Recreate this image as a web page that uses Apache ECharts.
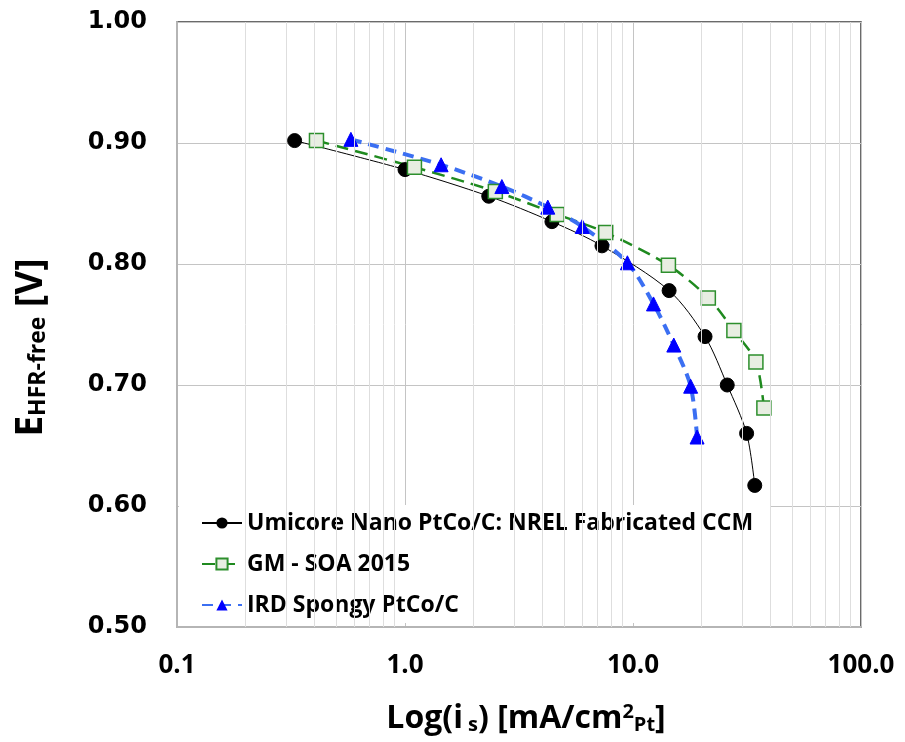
<!DOCTYPE html>
<html>
<head>
<meta charset="utf-8">
<script src="https://cdn.jsdelivr.net/npm/echarts@6/dist/echarts.min.js"></script>
<style>html,body{margin:0;padding:0;background:#fff;overflow:hidden}#chart{width:905px;height:742px}</style>
</head>
<body>
<div id="chart"></div>
<script>
// ---- data ----
const seriesNames = ['Umicore Nano PtCo/C: NREL Fabricated CCM', 'GM - SOA 2015', 'IRD Spongy PtCo/C'];
const umicoreX = [0.328, 1.00, 2.33, 4.41, 7.31, 14.4, 20.7, 25.9, 31.5, 34.2];
const umicoreY = [0.902, 0.878, 0.856, 0.835, 0.815, 0.778, 0.740, 0.700, 0.660, 0.617];
const gmX = [0.409, 1.10, 2.49, 4.65, 7.59, 14.3, 21.4, 27.7, 34.6, 37.5];
const gmY = [0.902, 0.880, 0.860, 0.841, 0.826, 0.799, 0.772, 0.745, 0.719, 0.681];
const irdX = [0.579, 1.44, 2.66, 4.23, 5.99, 9.45, 12.3, 15.1, 17.9, 19.1];
const irdY = [0.903, 0.882, 0.864, 0.847, 0.831, 0.801, 0.767, 0.733, 0.699, 0.657];
const xTickValues = [0.1, 1, 10, 100];
const xTickLabels = ['0.1', '1.0', '10.0', '100.0'];
const yTickLabels = ['0.50', '0.60', '0.70', '0.80', '0.90', '1.00'];
const minorGridX = [0.2,0.3,0.4,0.5,0.6,0.7,0.8,0.9, 2,3,4,5,6,7,8,9, 20,30,40,50,60,70,80,90];

const pair = (xs, ys) => xs.map((x, i) => [x, ys[i]]);

const chart = echarts.init(document.getElementById('chart'), null, {renderer: 'canvas'});
const font = '"Open Sans", Lato, sans-serif';

chart.setOption({
  backgroundColor: '#ffffff',
  animation: false,
  grid: {left: 177, top: 22, right: 44, bottom: 115, show: true,
         borderColor: '#3a3a3a', borderWidth: 1.5, backgroundColor: 'transparent'},
  legend: {
    orient: 'vertical', left: 179, top: 505,
    padding: [5, 17, 5, 22], itemGap: 15, itemWidth: 40, itemHeight: 14,
    backgroundColor: '#ffffff', borderWidth: 0,
    textStyle: {fontFamily: font, fontWeight: 'bold', fontSize: 23, color: '#000', lineHeight: 26},
    data: seriesNames
  },
  xAxis: {
    type: 'log', logBase: 10, min: 0.1, max: 100,
    axisLine: {show: true, lineStyle: {color: '#b5b5b5', width: 2}},
    axisTick: {show: false},
    splitLine: {show: true, lineStyle: {color: '#c4c4c4', width: 1}},
    axisLabel: {
      margin: 26, color: '#000', fontFamily: font, fontWeight: 'bold', fontSize: 26,
      formatter: v => {
        const i = xTickValues.findIndex(t => Math.abs(Math.log10(t) - Math.log10(v)) < 1e-6);
        return i >= 0 ? xTickLabels[i] : '';
      }
    },
    name: '{a|Log(i}{sub| s}{a|) [mA/cm}{sup|2}{sub|Pt}{a|]}',
    nameLocation: 'middle', nameGap: 75,
    nameTextStyle: {
      padding: [0, 0, 0, 14],
      rich: {
        a: {fontFamily: font, fontWeight: 'bold', fontSize: 32, color: '#000', verticalAlign: 'middle'},
        sub: {fontFamily: font, fontWeight: 'bold', fontSize: 20, color: '#000', verticalAlign: 'bottom', padding: [13, 0, 0, 0]},
        sup: {fontFamily: font, fontWeight: 'bold', fontSize: 20, color: '#000', verticalAlign: 'top', padding: [0, 0, 11, 0]}
      }
    }
  },
  yAxis: {
    type: 'value', min: 0.5, max: 1.0, interval: 0.1,
    axisLine: {show: true, lineStyle: {color: '#b5b5b5', width: 2}},
    axisTick: {show: false},
    splitLine: {show: true, lineStyle: {color: '#c4c4c4', width: 1}},
    axisLabel: {
      margin: 30, color: '#000', fontFamily: '"DejaVu Sans", Verdana, sans-serif', fontWeight: 'bold', fontSize: 24,
      formatter: v => yTickLabels[Math.round((v - 0.5) * 10)] || ''
    },
    name: '{e|E}{sub|HFR-free}{e| [V]}',
    nameLocation: 'middle', nameRotate: 90, nameGap: 127,
    nameTextStyle: {
      padding: [0, 46, 0, 0],
      rich: {
        e: {fontFamily: font, fontWeight: 'bold', fontSize: 37, color: '#000', verticalAlign: 'middle'},
        sub: {fontFamily: font, fontWeight: 'bold', fontSize: 23, color: '#000', verticalAlign: 'bottom', padding: [15, 0, 0, 0]}
      }
    }
  },
  series: [
    {
      name: '_grid', type: 'line', data: [], silent: true, z: 1,
      markLine: {
        silent: true, symbol: 'none', label: {show: false},
        lineStyle: {color: '#dedede', width: 1, type: 'solid'},
        data: minorGridX.map(v => ({xAxis: v}))
      }
    },
    {
      name: seriesNames[0], type: 'line', data: pair(umicoreX, umicoreY), smooth: 0.3,
      symbol: 'circle', symbolSize: 14,
      lineStyle: {color: '#000', width: 1},
      itemStyle: {color: '#000', borderColor: '#000'}
    },
    {
      name: seriesNames[1], type: 'line', data: pair(gmX, gmY), smooth: 0.3,
      symbol: 'rect', symbolSize: 14,
      lineStyle: {color: '#1f8a1f', width: 2.5, type: [13, 7]},
      itemStyle: {color: '#e8eee2', borderColor: '#2d8f2d', borderWidth: 1.5}
    },
    {
      name: seriesNames[2], type: 'line', data: pair(irdX, irdY), smooth: 0.3,
      symbol: 'triangle', symbolSize: 14,
      lineStyle: {color: '#3b6ff2', width: 4, type: [11, 7]},
      itemStyle: {color: '#0000ff', borderColor: '#0000ff'}
    }
  ]
});
</script>
</body>
</html>
